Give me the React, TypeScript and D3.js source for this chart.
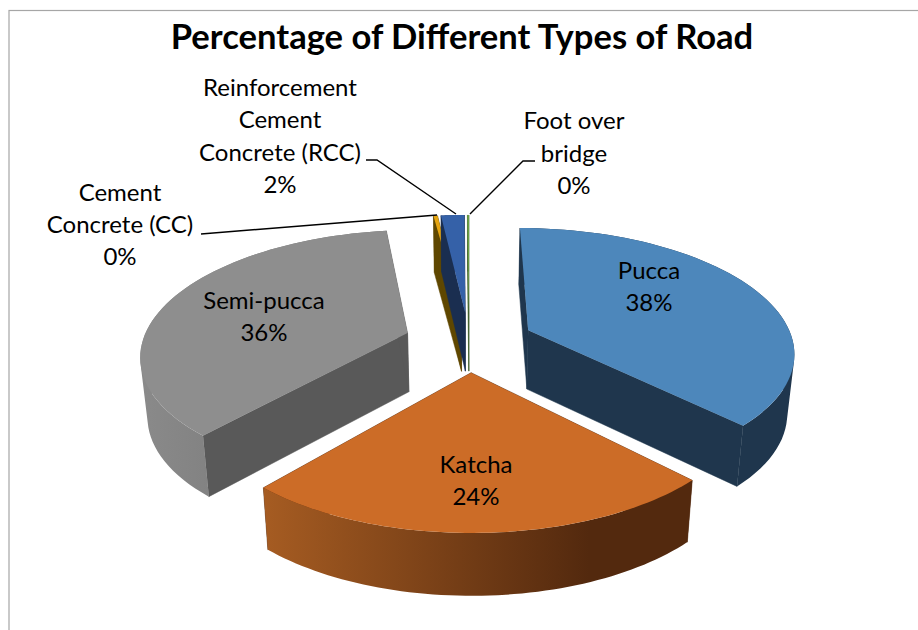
import React from "react";
import * as d3 from "d3";

const title = "Percentage of Different Types of Road";
const categories = ["Pucca", "Katcha", "Semi-pucca", "Cement Concrete (CC)", "Reinforcement Cement Concrete (RCC)", "Foot over bridge"];
const values = [37.6, 23.8, 36.5, 0.3, 1.7, 0.1];
const percentLabels = ["38%", "24%", "36%", "0%", "2%", "0%"];
const topColors = ["#4d87bb", "#cc6c27", "#8e8e8e", "#e6a50f", "#3561a8", "#70ad47"];
const cutColors = ["#1f364d", "#53290e", "#595959", "#5f4700", "#1a2e50", "#3a5a25"];
const wallLeft = ["#1f364d", "#a65c22", "#8a8a8a", "#5f4700", "#1a2e50", "#3a5a25"];
const wallRight = ["#1f364d", "#53290e", "#757575", "#5f4700", "#1a2e50", "#3a5a25"];

const W = 918, H = 630;
const x0 = 469, y0 = 341.5;
const A = 265, B = 122.4, k = 0.164;
const explode = 0.245;
const shrink = 0.978, stretch = 1.02, drop = 59;

type P = [number, number];

// perspective of the pie plane, u to the right, v to the back
const top = (u: number, v: number): P => {
  const w = 1 + k * v;
  return [x0 + (A * u) / w, y0 - (B * v) / w];
};
const low = ([x, y]: P): P => [x0 + (x - x0) * shrink, y0 + (y - y0) * stretch + drop];

const line = d3.line<P>().x(d => d[0]).y(d => d[1]);
const angle = d3.scaleLinear().domain([0, 1]);

// outer wall as one path, every quad wound the same way so they fill as a union
const wallPath = (rim: P[]) =>
  d3.pairs(rim).map(([p, q]) => {
    const quad: P[] = [p, q, low(q), low(p)];
    if (d3.polygonArea(quad) < 0) quad.reverse();
    return line(quad) + "Z";
  }).join("");

export default function App() {
  const arcs = d3.pie<number>().sort(null)(values);

  const slices = arcs.map((a, i) => {
    const mid = (a.startAngle + a.endAngle) / 2;
    const ox = explode * Math.sin(mid), oy = explode * Math.cos(mid);
    angle.range([a.startAngle, a.endAngle]);
    const rim = d3.range(0, 61).map(j => {
      const t = angle(j / 60);
      return top(ox + Math.sin(t), oy + Math.cos(t));
    });
    const apex = top(ox, oy);
    return { i, mid, rim, apex };
  });

  // back slices first, front slice last
  const order = [3, 4, 5, 0, 2, 1];

  return (
    <svg width={W} height={H} style={{ position: "absolute", left: 0, top: 0 }} fontFamily="Lato, 'Open Sans', sans-serif">
      <defs>
        {slices.map(s => {
          const xs = s.rim.map(p => p[0]);
          return (
            <linearGradient key={s.i} id={`wall${s.i}`} gradientUnits="userSpaceOnUse" x1={d3.min(xs)} x2={d3.max(xs)} y1={0} y2={0}>
              <stop offset="0" stopColor={wallLeft[s.i]} />
              <stop offset="0.76" stopColor={wallRight[s.i]} />
            </linearGradient>
          );
        })}
      </defs>
      <rect x={9} y={10.5} width={W + 20} height={H + 20} fill="#fff" stroke="#a6a6a6" strokeWidth={1.2} />

      {order.map(i => {
        const s = slices[i];
        const a1 = s.rim[0], a2 = s.rim[s.rim.length - 1];
        return (
          <g key={i} strokeWidth={0.5} strokeLinejoin="round">
            <path d={line([a1, s.apex, low(s.apex), low(a1)]) + "Z"} fill={cutColors[i]} stroke={cutColors[i]} />
            <path d={line([a2, s.apex, low(s.apex), low(a2)]) + "Z"} fill={cutColors[i]} stroke={cutColors[i]} />
            <path d={wallPath(s.rim)} fill={`url(#wall${i})`} />
            <path d={line([s.apex, ...s.rim]) + "Z"} fill={topColors[i]} />
          </g>
        );
      })}

      <text x={462} y={49} textAnchor="middle" fontSize={34.6} fontWeight={700} fill="#000">{title}</text>

      <g fill="none" stroke="#000" strokeWidth={1.4}>
        <path d={line([[201, 234], [437, 215]])!} />
        <path d={line([[366, 160], [377, 160], [456, 214]])!} />
        <path d={line([[535, 161], [523, 161], [470, 214]])!} />
      </g>

      <g fontSize={24} fill="#000" textAnchor="middle">
        <text x={649} y={279}>{categories[0]}</text>
        <text x={649} y={311}>{percentLabels[0]}</text>
        <text x={476} y={473}>{categories[1]}</text>
        <text x={476} y={505}>{percentLabels[1]}</text>
        <text x={264} y={309}>{categories[2]}</text>
        <text x={264} y={341}>{percentLabels[2]}</text>
        <text x={120} y={201}>Cement</text>
        <text x={120} y={233}>Concrete (CC)</text>
        <text x={120} y={265}>{percentLabels[3]}</text>
        <text x={280} y={96}>Reinforcement</text>
        <text x={280} y={128}>Cement</text>
        <text x={280} y={161}>Concrete (RCC)</text>
        <text x={280} y={193}>{percentLabels[4]}</text>
        <text x={574} y={129}>Foot over</text>
        <text x={574} y={162}>bridge</text>
        <text x={574} y={194}>{percentLabels[5]}</text>
      </g>
    </svg>
  );
}
